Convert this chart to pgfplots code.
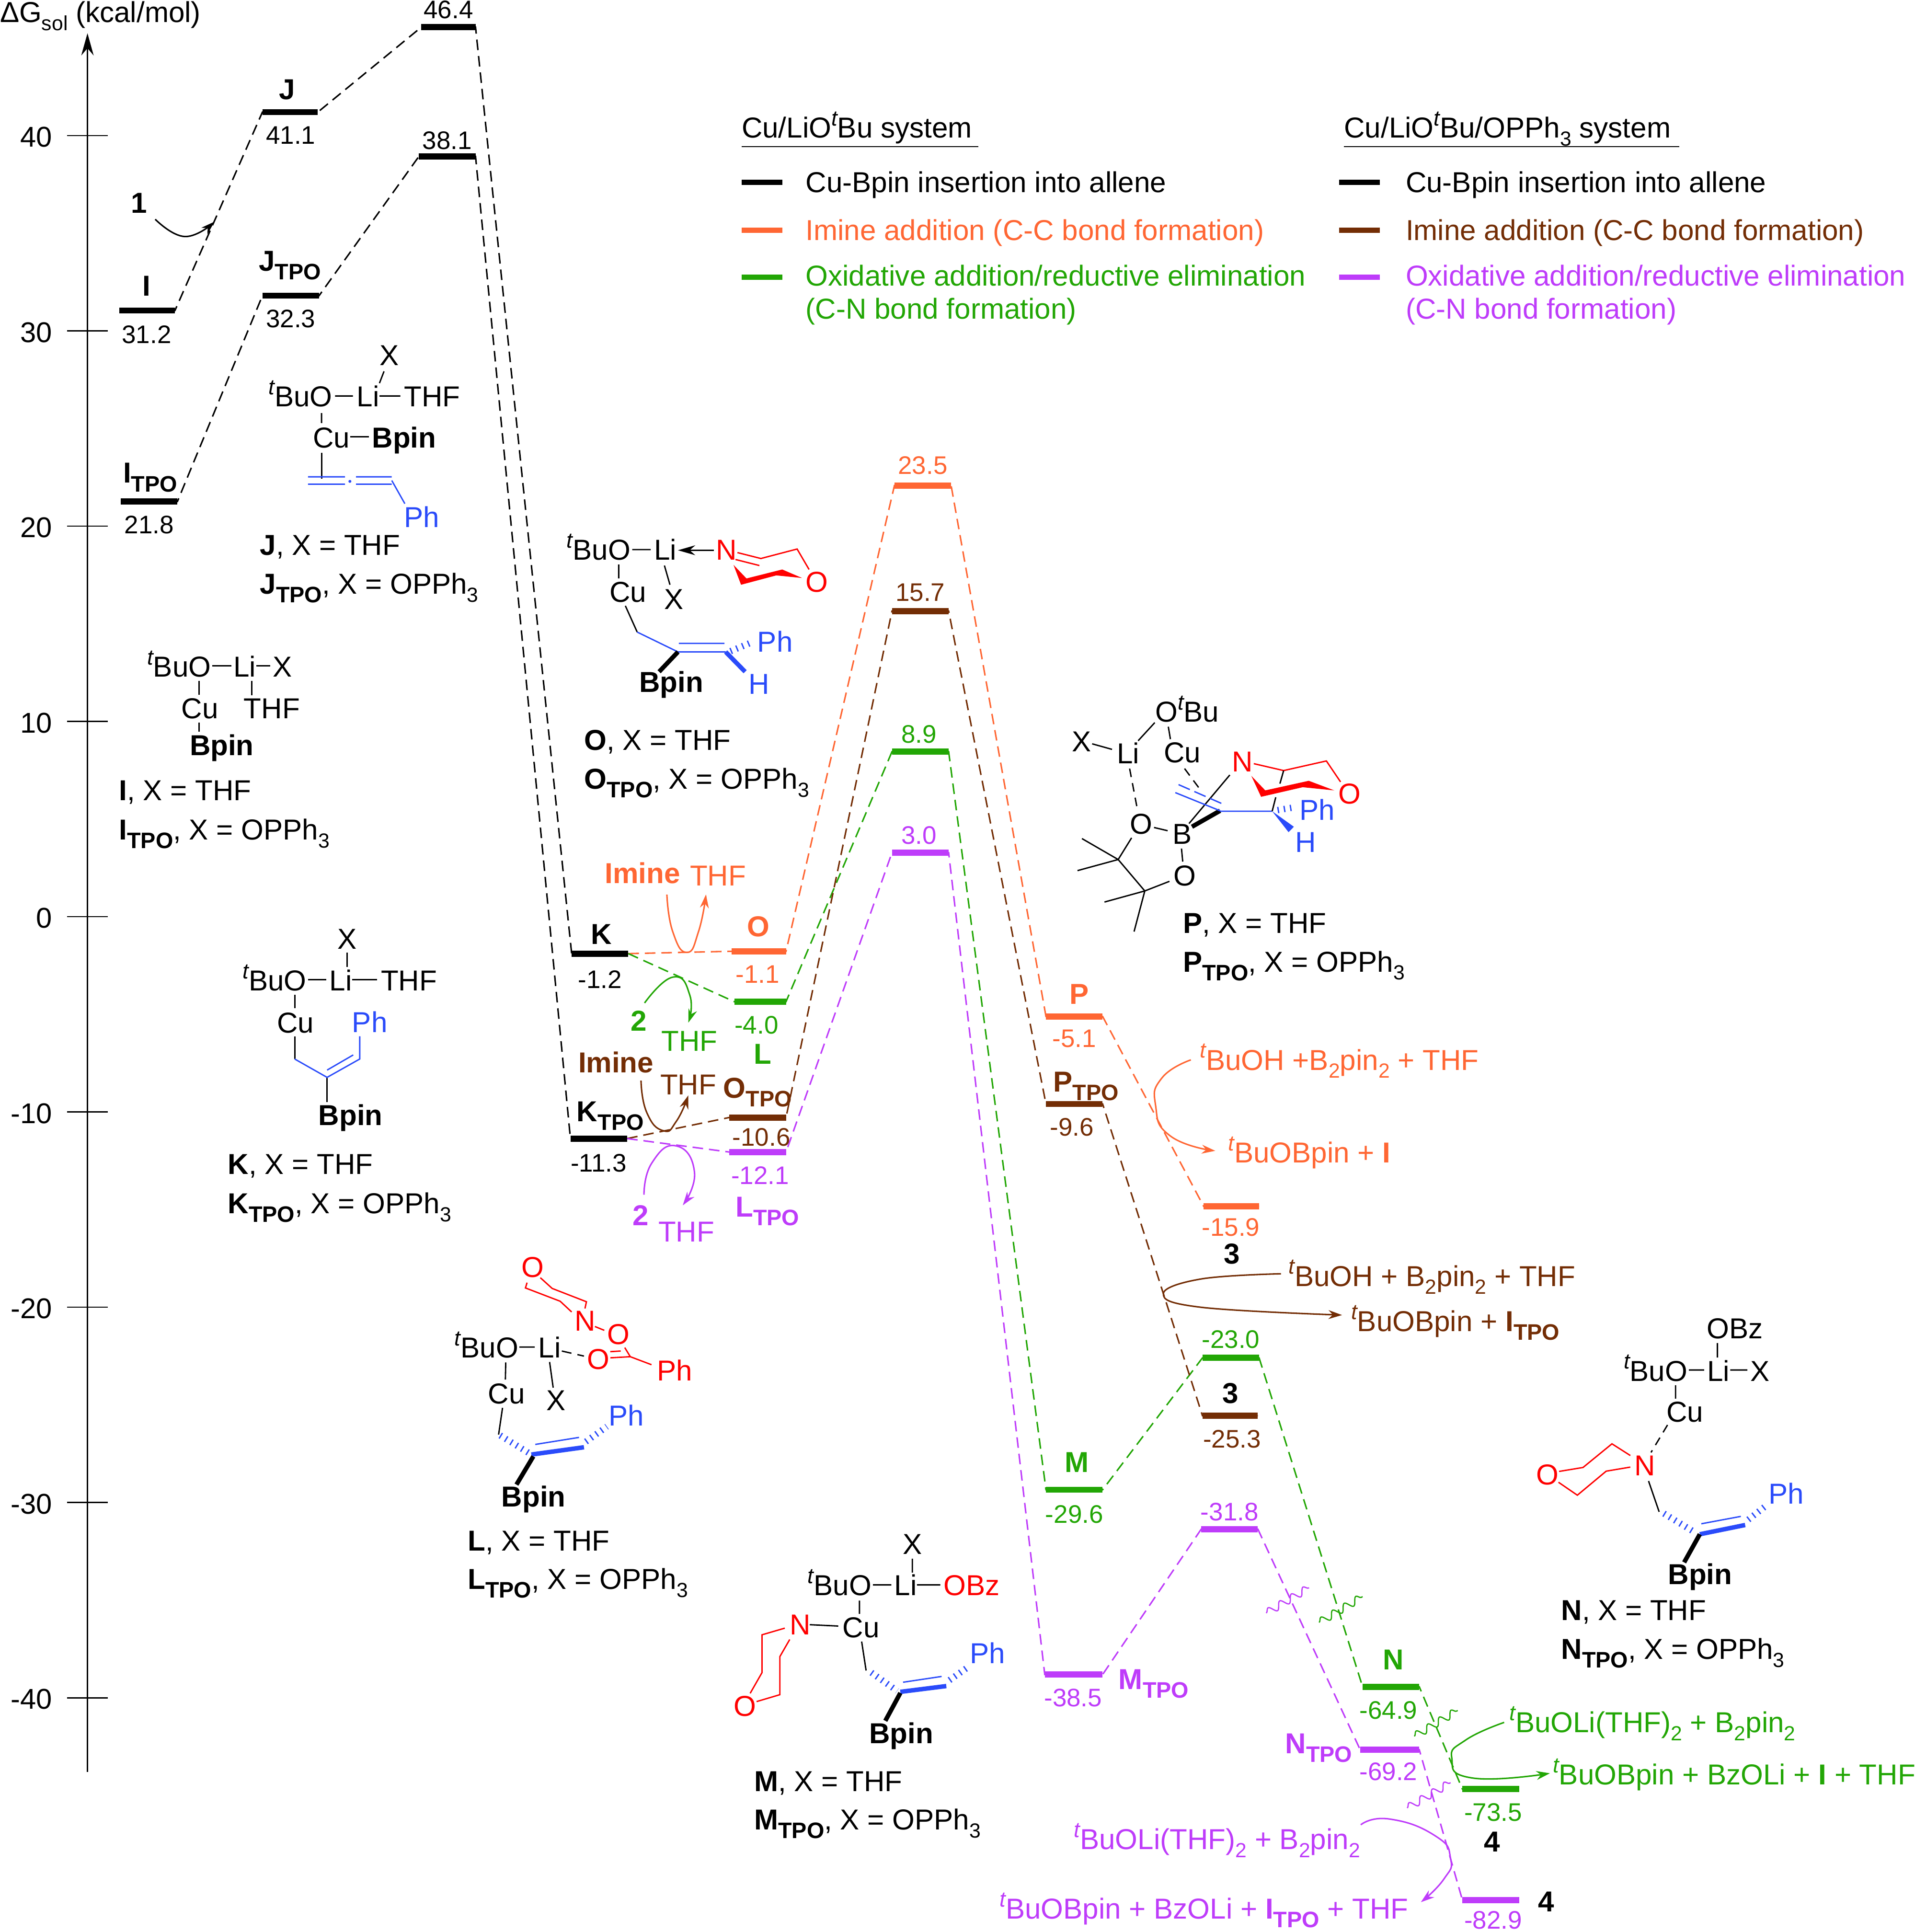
\documentclass[border=0pt]{standalone}
\usepackage{fontspec}
\setmainfont{Liberation Sans}
\usepackage{pgfplots}
\usepackage{pgfplotstable}
\pgfplotsset{compat=1.18}
\usetikzlibrary{arrows.meta,decorations.pathmorphing}
\definecolor{cor}{HTML}{FF6633}
\definecolor{cbr}{HTML}{732D05}
\definecolor{cgr}{HTML}{22A605}
\definecolor{cpu}{HTML}{BE3CFA}
\definecolor{cbl}{HTML}{2A4BFA}
\definecolor{cre}{HTML}{FF0000}

% level tables: x, y for the dashed path, b for the bar (nan breaks it)
\pgfplotstableread{
x y b
97 31.04 31.04
142 31.04 31.04
142 31.04 nan
213 41.2 41.2
258 41.2 41.2
258 41.2 nan
342 45.55 45.55
386 45.55 45.55
386 45.55 nan
464 -1.89 -1.89
510 -1.89 -1.89
}\tblA
\pgfplotstableread{
x y b
98 21.26 21.26
144 21.26 21.26
144 21.26 nan
213 31.8 31.8
259 31.8 31.8
259 31.8 nan
340 38.93 38.93
386 38.93 38.93
386 38.93 nan
463 -11.36 -11.36
509 -11.36 -11.36
}\tblB
\pgfplotstableread{
x y b
510 -1.89 nan
594 -1.77 -1.77
638 -1.77 -1.77
638 -1.77 nan
726 22.08 22.08
772 22.08 22.08
772 22.08 nan
849 -5.11 -5.11
895 -5.11 -5.11
895 -5.11 nan
977 -14.83 -14.83
1022 -14.83 -14.83
}\tblOr
\pgfplotstableread{
x y b
510 -1.89 nan
596 -4.35 -4.35
638 -4.35 -4.35
638 -4.35 nan
724 8.45 8.45
770 8.45 8.45
770 8.45 nan
849 -29.34 -29.34
895 -29.34 -29.34
895 -29.34 nan
976 -22.59 -22.59
1022 -22.59 -22.59
1022 -22.59 nan
1106 -39.43 -39.43
1152 -39.43 -39.43
1152 -39.43 nan
1187 -44.67 -44.67
1233 -44.67 -44.67
}\tblGr
\pgfplotstableread{
x y b
509 -11.36 nan
592 -10.28 -10.28
638 -10.28 -10.28
638 -10.28 nan
724 15.65 15.65
770 15.65 15.65
770 15.65 nan
849 -9.59 -9.59
895 -9.59 -9.59
895 -9.59 nan
976 -25.55 -25.55
1021 -25.55 -25.55
}\tblBr
\pgfplotstableread{
x y b
509 -11.36 nan
592 -12.05 -12.05
638 -12.05 -12.05
638 -12.05 nan
724 3.28 3.28
770 3.28 3.28
770 3.28 nan
848 -38.8 -38.8
895 -38.8 -38.8
895 -38.8 nan
975 -31.36 -31.36
1021 -31.36 -31.36
1021 -31.36 nan
1104 -42.65 -42.65
1152 -42.65 -42.65
1152 -42.65 nan
1187 -50.35 -50.35
1233 -50.35 -50.35
}\tblPu

\newcommand{\fs}{\fontsize{11.7}{14}\selectfont}
\newcommand{\fv}{\fontsize{10.3}{12}\selectfont}
\newcommand{\TPO}{\raisebox{-.3em}{\fontsize{9.1}{10}\selectfont\bfseries TPO}}
\newcommand{\dn}[1]{\raisebox{-.28em}{\fontsize{8.3}{10}\selectfont #1}}
\newcommand{\tu}{\raisebox{.42em}{\fontsize{8.8}{10}\selectfont\itshape t}}
% left/base and centre/base text at picture pixels
\newcommand{\lb}[4][black]{\node[anchor=base west,text=#1] at (#2,#3) {#4};}
\newcommand{\cb}[4][black]{\node[anchor=base,text=#1] at (#2,#3) {#4};}
\newcommand{\va}[4][black]{\node[anchor=base,text=#1,font=\fv] at (#2,#3) {#4};}
\newcommand{\capt}[4]{\lb{#1}{#2}{\textbf{#4}, X = THF}\lb{#1}{#3}{\textbf{#4}\TPO, X = OPPh\dn{3}}}

\begin{document}
\begin{tikzpicture}
\useasboundingbox (0,0) rectangle (777pt,784pt);

\begin{axis}[
  at={(35.5pt,65pt)},anchor=south west,scale only axis,width=10pt,height=705.5pt,
  xmin=0,xmax=1,ymin=-43.79,ymax=45.24,
  axis x line=none,axis y line=left,
  axis line style={line width=.6pt,-{Stealth[length=9pt,width=5pt]}},
  ytick={-40,-30,-20,-10,0,10,20,30,40},
  tick align=center,major tick length=16.5pt,
  tick style={black,line width=.5pt},
  yticklabel style={font=\fontsize{11.6}{13}\selectfont,/pgf/number format/assume math mode=true,anchor=east,xshift=-2.6pt,yshift=-.6pt},
]
\end{axis}

\begin{axis}[
  at={(0,0)},anchor=south west,scale only axis,width=777pt,height=784pt,
  xmin=0,xmax=1554,ymin=-51.987,ymax=46.94,
  axis lines=none,clip=false,unbounded coords=jump,
  conn/.style={dash pattern=on 4.3pt off 2.4pt,line width=.6pt,forget plot},
  lvl/.style={line width=2.5pt,forget plot},
]
\addplot[conn,black] table[x=x,y=y] {\tblA};
\addplot[conn,black] table[x=x,y=y] {\tblB};
\addplot[conn,cor] table[x=x,y=y] {\tblOr};
\addplot[conn,cgr] table[x=x,y=y] {\tblGr};
\addplot[conn,cbr] table[x=x,y=y] {\tblBr};
\addplot[conn,cpu] table[x=x,y=y] {\tblPu};
\addplot[lvl,black] table[x=x,y=b] {\tblA};
\addplot[lvl,black] table[x=x,y=b] {\tblB};
\addplot[lvl,cor] table[x=x,y=b] {\tblOr};
\addplot[lvl,cgr] table[x=x,y=b] {\tblGr};
\addplot[lvl,cbr] table[x=x,y=b] {\tblBr};
\addplot[lvl,cpu] table[x=x,y=b] {\tblPu};
\end{axis}

\begin{scope}[shift={(0,784pt)},x=.5pt,y=-.5pt,
  every node/.style={inner sep=0pt,outer sep=0pt,font=\fs},
  bd/.style={line width=.55pt},
  wd/.style={line width=1.8pt},
  hs/.style={line width=2.6pt,dash pattern=on .55pt off 2pt},
  ar/.style={line width=.6pt,-{Stealth[length=5.5pt,width=3.6pt]}},
  wv/.style={line width=.5pt,decorate,decoration={snake,amplitude=1.5pt,segment length=5.5pt}},
  leg/.style={line width=2.1pt}]

% axis title
\lb{0}{18}{Δ{}G\dn{sol} (kcal/mol)}

% energy values
\va{119}{278.5}{31.2}\va{121}{433}{21.8}\va{236}{117}{41.1}\va{236}{266}{32.3}
\va{364}{15}{46.4}\va{363}{121}{38.1}\va{487}{802}{-1.2}\va{486}{951}{-11.3}
\va[cor]{615}{798}{-1.1}\va[cor]{749}{385}{23.5}\va[cor]{872}{850}{-5.1}\va[cor]{999}{1003}{-15.9}
\va[cgr]{614}{839}{-4.0}\va[cgr]{746}{603}{8.9}\va[cgr]{999}{1094}{-23.0}\va[cgr]{872}{1236}{-29.6}\va[cgr]{1127}{1395}{-64.9}\va[cgr]{1212}{1478}{-73.5}
\va[cbr]{618}{930}{-10.6}\va[cbr]{747}{488}{15.7}\va[cbr]{870}{922}{-9.6}\va[cbr]{1000}{1175}{-25.3}
\va[cpu]{617}{961}{-12.1}\va[cpu]{746}{685}{3.0}\va[cpu]{871}{1385}{-38.5}\va[cpu]{998}{1234}{-31.8}\va[cpu]{1127}{1445}{-69.2}\va[cpu]{1212}{1565.5}{-82.9}

% state names
\cb{119}{240}{\textbf{I}}\lb{100}{392}{\textbf{I}\TPO}\cb{233}{80.6}{\textbf{J}}\lb{210}{220}{\textbf{J}\TPO}
\cb{113}{173}{\textbf{1}}
\cb{488}{766.3}{\textbf{K}}\lb{468.2}{910.2}{\textbf{K}\TPO}
\cb[cor]{615.7}{760}{\textbf{O}}\lb[cbr]{587.2}{891}{\textbf{O}\TPO}
\cb[cgr]{618.9}{863.5}{\textbf{L}}\lb[cpu]{597.1}{987.5}{\textbf{L}\TPO}
\cb[cor]{876}{815}{\textbf{P}}\lb[cbr]{855}{886}{\textbf{P}\TPO}
\cb[cgr]{874}{1195}{\textbf{M}}\lb[cpu]{908}{1371}{\textbf{M}\TPO}
\cb[cgr]{1131}{1355}{\textbf{N}}\lb[cpu]{1043.2}{1423.3}{\textbf{N}\TPO}
\cb{1000}{1025.7}{\textbf{3}}\cb{998.8}{1138.7}{\textbf{3}}
\cb{1211.2}{1503}{\textbf{4}}\lb{1248.4}{1551.6}{\textbf{4}}

% small side species and arrows
\draw[ar] plot[smooth,tension=.8] coordinates {(126,178) (150,192) (174,180)};
\lb[cor]{491}{717}{\textbf{Imine}}\lb[cor]{560}{719}{THF}
\draw[ar,cor] plot[smooth,tension=.9] coordinates {(541.3,726) (546,756) (557.5,773) (567,756) (573,726)};
\lb[cgr]{512}{836.8}{\textbf{2}}\lb[cgr]{536.9}{853.2}{THF}
\draw[ar,cgr] plot[smooth,tension=.9] coordinates {(523.2,814) (546.3,793) (560,808) (558.7,830)};
\lb[cbr]{469.4}{870.5}{\textbf{Imine}}\lb[cbr]{535.9}{888.3}{THF}
\draw[ar,cbr] plot[smooth,tension=.9] coordinates {(520.3,877) (525,903) (538.4,917.7) (549,910) (558.7,889)};
\lb[cpu]{513.6}{994.7}{\textbf{2}}\lb[cpu]{534.4}{1008}{THF}
\draw[ar,cpu] plot[smooth,tension=.9] coordinates {(522.7,969.7) (529,944) (548.8,930) (563.7,951.4) (554.2,978.2)};

\lb[cor]{974}{868.4}{\tu BuOH +B\dn{2}pin\dn{2} + THF}
\lb[cor]{997}{943.8}{\tu BuOBpin + \textbf{I}}
\draw[ar,cor] plot[smooth,tension=.9] coordinates {(966.6,860.2) (943,875) (938,897.4) (950,922) (986.4,934)};
\lb[cbr]{1046}{1043.8}{\tu BuOH + B\dn{2}pin\dn{2} + THF}
\lb[cbr]{1096.8}{1080.5}{\tu BuOBpin + \textbf{I}\TPO}
\draw[ar,cbr] plot[smooth,tension=.7] coordinates {(1039.7,1033.8) (975,1038) (944.3,1050) (975,1061) (1089.3,1067.3)};
\lb[cgr]{1225.2}{1406.1}{\tu BuOLi(THF)\dn{2} + B\dn{2}pin\dn{2}}
\lb[cgr]{1260.5}{1448.4}{\tu BuOBpin + BzOLi + \textbf{I} + THF}
\draw[ar,cgr] plot[smooth,tension=.9] coordinates {(1220.9,1397.9) (1190,1412) (1178.4,1426.8) (1195,1443) (1258,1439.2)};
\lb[cpu]{871.8}{1501}{\tu BuOLi(THF)\dn{2} + B\dn{2}pin\dn{2}}
\lb[cpu]{811.5}{1557.4}{\tu BuOBpin + BzOLi + \textbf{I}\TPO{} + THF}
\draw[ar,cpu] plot[smooth,tension=.9] coordinates {(1104.5,1481) (1127.7,1476.3) (1165,1490) (1177.4,1508.3) (1172,1525) (1153.3,1543.8)};

% breaks
\draw[wv,cpu] (1027.8,1309.2)--(1062.5,1288.6);
\draw[wv,cgr] (1070.7,1316.8)--(1106,1295.8);
\draw[wv,cgr] (1148,1409.2)--(1183.2,1388.2);
\draw[wv,cpu] (1142.2,1467.4)--(1177.4,1446.8);

% legend
\lb{602}{112}{Cu/LiO\tu Bu system}
\draw[bd] (602,119)--(794,119);
\draw[leg] (602,148)--(635,148);\lb{654}{156}{Cu-Bpin insertion into allene}
\draw[leg,cor] (602,187)--(635,187);\lb[cor]{654}{195}{Imine addition (C-C bond formation)}
\draw[leg,cgr] (602,225)--(635,225);\lb[cgr]{654}{232}{Oxidative addition/reductive elimination}
\lb[cgr]{654}{259}{(C-N bond formation)}
\lb{1091}{112}{Cu/LiO\tu Bu/OPPh\dn{3} system}
\draw[bd] (1091,119)--(1363,119);
\draw[leg] (1087,148)--(1120,148);\lb{1141}{156}{Cu-Bpin insertion into allene}
\draw[leg,cbr] (1087,187)--(1120,187);\lb[cbr]{1141}{195}{Imine addition (C-C bond formation)}
\draw[leg,cpu] (1087,225)--(1120,225);\lb[cpu]{1141}{232}{Oxidative addition/reductive elimination}
\lb[cpu]{1141}{259}{(C-N bond formation)}

% structure J
\lb{218}{330}{\tu BuO}\lb{289.6}{330}{Li}\lb{328}{330}{THF}\cb{316}{296.6}{X}
\draw[bd] (272,321.4)--(286.5,321.4) (308,321.4)--(325,321.4) (308,311)--(311.7,301.4) (261,335.3)--(261,343.4);
\lb{254}{363.3}{Cu}\lb{302}{363.3}{\textbf{Bpin}}
\draw[bd] (284.4,354.6)--(299.5,354.6) (261,367.5)--(261,388.5);
\draw[bd,cbl] (250,387)--(280,387) (250,393)--(280,393) (289,387)--(318,387) (289,393)--(318,393) (318,390)--(328.6,408.8);
\fill[cbl] (284,390.7) circle (.6pt);
\lb[cbl]{328}{428}{Ph}
\capt{211}{450.7}{482}{J}

% structure I
\lb{119.5}{549.5}{\tu BuO}\lb{189.5}{549.5}{Li}\lb{221.5}{549.5}{X}
\lb{147.3}{583.2}{Cu}\lb{197.9}{583.2}{THF}\lb{154}{613}{\textbf{Bpin}}
\draw[bd] (172.2,540.5)--(187.8,540.5) (208,540.5)--(219.4,540.5) (161.7,552.6)--(161.7,564) (204.4,552.6)--(204.4,564.3) (161.7,586.3)--(161.7,594);
\capt{96.7}{649.8}{681.6}{I}

% structure K
\cb{281.8}{770.3}{X}\lb{197}{804}{\tu BuO}\lb{267.5}{804}{Li}\lb{309.2}{804}{THF}
\draw[bd] (250,795)--(265,795) (286,795)--(306,795) (281.8,773.3)--(281.8,784.7) (239.2,807.4)--(239.2,818.4) (239.2,841)--(239.2,859.5) (265.5,874.4)--(265.5,894.5);
\lb{224.9}{838.1}{Cu}\lb[cbl]{285.8}{837.8}{Ph}\lb{258.6}{913.4}{\textbf{Bpin}}
\draw[bd,cbl] (239.2,859.5)--(265.5,874.4)--(292,859.5)--(292,841) (265.5,868.5)--(286.7,856.2);
\capt{185}{953}{985}{K}

% structure O
\lb{460}{454.6}{\tu BuO}\lb{530.9}{454.6}{Li}\lb[cre]{581.2}{454.6}{N}
\draw[bd] (513.2,446.1)--(528.2,446.1) (502.2,458.2)--(502.2,469.5) (539.3,459)--(543.8,474.6) (507.6,491.7)--(517.2,513);
\draw[line width=.6pt,-{Stealth[length=7pt,width=4pt]}] (579.3,446.6)--(550.3,446.6);
\lb{494.7}{488.5}{Cu}\lb{539.3}{494.4}{X}
\draw[bd,cre] (598.6,448.5)--(617.6,453.3)--(647,445.6)--(656.7,462.2) (597,454.1)--(616.4,459);
\fill[cre] (595.4,458.5)--(605.9,469.5)--(634.9,462.2)--(651,469.1)--(630.1,467)--(601.5,474.6)--cycle;
\lb[cre]{654}{480.4}{O}
\draw[bd,cbl] (517.2,513)--(550.3,529.1)--(589,529.1) (551,522.2)--(588,522.2);
\draw[wd] (550.3,529.1)--(535,545.2);
\draw[wd,cbl] (589,529.1)--(604.8,545.2);
\draw[hs,cbl] (593,528.5)--(611,521);
\lb[cbl]{614.8}{529}{Ph}\lb[cbl]{607.5}{563.3}{H}\lb{518.8}{561.7}{\textbf{Bpin}}
\capt{474.2}{609}{640.3}{O}

% structure P
\lb{937.7}{586}{O\tu Bu}\lb{870.3}{610}{X}\lb{906.6}{619.8}{Li}\lb{944.7}{619}{Cu}\lb[cre]{1000.2}{626.2}{N}
\draw[bd] (886.5,603.7)--(902.6,608.2) (923.8,601.2)--(937.3,586.5) (948.3,589.8)--(950,599.9);
\draw[bd,dash pattern=on 3.5pt off 2.5pt] (961.5,623.8)--(973.4,639.8) (916.9,623.8)--(923.3,657.5);
\lb{917.3}{677}{O}\lb{951.6}{684.9}{B}\lb{952.6}{718.8}{O}
\draw[bd] (936.7,671.6)--(947.7,674.2) (959,688.7)--(960,699.3) (918.5,680)--(907.6,697.6)--(929.2,723.1)--(949.2,715.3);
\draw[bd] (907.6,697.6)--(878.2,680.6) (907.6,697.6)--(874.6,706.6) (929.2,723.1)--(896.5,732.1) (929.2,723.1)--(920.5,756.1);
\draw[bd] (965.1,668.4)--(998.2,629);
\draw[wd] (967.5,671)--(990.3,658);
\draw[bd,cbl] (990.3,658.4)--(1032.6,658.4) (954,643.3)--(990.3,658);
\draw[bd,cbl,dash pattern=on 5pt off 2pt] (956.6,636.8)--(991.3,652);
\draw[bd,cre] (1017.7,619.8)--(1041.9,625.4)--(1076.6,617.6)--(1088.1,634.6);
\fill[cre] (1015.7,629.7)--(1027,641.5)--(1062.3,633.7)--(1083,641.5)--(1057.4,638.9)--(1023.6,646.7)--cycle;
\lb[cre]{1086.5}{652.3}{O}
\draw[bd] (1041.9,625.4)--(1038.9,636) (1035.5,647.1)--(1032.6,658.4);
\draw[hs,cbl] (1037,657.5)--(1052,655);
\fill[cbl] (1032.6,658.4)--(1050.2,671)--(1045.9,675.4)--cycle;
\lb[cbl]{1054.8}{665.5}{Ph}\lb[cbl]{1051.4}{691.5}{H}
\capt{960.2}{757.5}{788.7}{P}

% structure L
\lb{369}{1102}{\tu BuO}\lb{437}{1102}{Li}\lb[cre]{476.4}{1111.3}{O}\lb[cre]{493}{1090.9}{O}\lb[cre]{466.3}{1080}{N}
\draw[bd] (421.6,1093.3)--(434,1093.3) (410.5,1105.8)--(410.2,1119.7) (446.1,1105.4)--(449,1126.2) (407.9,1142.6)--(404.7,1164.3);
\draw[bd,dash pattern=on 4pt off 2.5pt] (456,1096.5)--(474,1100.6);
\draw[bd,cre] (482.9,1076.6)--(490.5,1079.7) (507.1,1093.7)--(511.6,1101.1)--(528.8,1107.6) (495.3,1097)--(503.8,1096.5) (495.5,1102)--(511.6,1101.1);
\draw[bd,cre] (438.6,1037)--(448.2,1045.7)--(476,1056.5)--(474.8,1062) (427.8,1041)--(426.5,1045.3)--(454.7,1056.1)--(464,1064.8);
\lb[cre]{533.4}{1120.6}{Ph}\lb[cre]{423.2}{1036.6}{O}
\lb{396.2}{1139.2}{Cu}\lb{443.4}{1144.8}{X}
\draw[hs,cbl] (406,1165)--(431.3,1180.5);
\draw[wd,cbl] (431.3,1180.5)--(474,1174.6);
\draw[bd,cbl] (434.5,1172.3)--(470,1166.6);
\draw[hs,cbl] (475.6,1170)--(492.6,1157.8);
\lb[cbl]{494.2}{1157.3}{Ph}
\draw[wd] (432.9,1182)--(419.2,1204.9);
\lb{407.1}{1223}{\textbf{Bpin}}
\capt{379.7}{1258.8}{1289.9}{L}

% structure M
\lb{733}{1261.5}{X}\lb{655.6}{1295}{\tu BuO}\lb{726}{1295}{Li}\lb[cre]{766}{1295}{OBz}
\draw[bd] (740.5,1265)--(740.5,1276.3) (708.6,1286.3)--(723.5,1286.3) (744.3,1286.3)--(763.2,1286.3) (697.6,1299)--(697.6,1309.8) (657.3,1318.6)--(680.4,1319.7) (699.4,1332.3)--(703,1355.8);
\lb{683.9}{1328.9}{Cu}\lb[cre]{641}{1326.8}{N}\lb[cre]{595.4}{1392.7}{O}
\draw[bd,cre] (637,1321.4)--(618.5,1326.8)--(618.5,1357.5)--(608.9,1374.3) (641,1330.6)--(633,1344.5)--(633,1375.4)--(614.1,1381);
\draw[hs,cbl] (707.3,1357.5)--(728.2,1372.3);
\draw[wd,cbl] (730.8,1373.1)--(768.1,1368.4);
\draw[bd,cbl] (733,1365.3)--(764.3,1360.6);
\draw[hs,cbl] (770.7,1363.6)--(785.5,1353.2);
\lb[cbl]{787.2}{1350}{Ph}
\draw[wd] (730.8,1374)--(718.6,1396.6);
\lb{705.6}{1414.8}{\textbf{Bpin}}
\capt{612.2}{1453.9}{1485.1}{M}

% structure N
\lb{1385.3}{1086.5}{OBz}\lb{1318}{1120.8}{\tu BuO}\lb{1385.8}{1120.8}{Li}\lb{1420.9}{1120.8}{X}
\draw[bd] (1394,1090)--(1394,1101.8) (1370.9,1111.9)--(1383.2,1111.9) (1404.4,1111.9)--(1418.3,1111.9) (1360,1124.2)--(1360,1135.1) (1338.1,1202)--(1346.7,1227);
\draw[bd,dash pattern=on 3.5pt off 2.5pt] (1353.5,1156.5)--(1340.1,1178.8);
\lb{1352.6}{1154}{Cu}\lb[cre]{1326.6}{1197.6}{N}\lb[cre]{1246.9}{1205}{O}
\draw[bd,cre] (1323.3,1181.3)--(1308.4,1171.8)--(1284.9,1191)--(1265.5,1194.2) (1323.3,1190.7)--(1303.7,1194)--(1280.3,1213.5)--(1265,1203);
\draw[hs,cbl] (1350.6,1228.4)--(1376.6,1244.2);
\draw[wd,cbl] (1379.7,1245.2)--(1416.5,1237.7);
\draw[bd,cbl] (1380.9,1236.7)--(1413,1230.7);
\draw[hs,cbl] (1419.1,1233.3)--(1433,1222.4);
\lb[cbl]{1435.6}{1220.4}{Ph}
\draw[wd] (1379.7,1245.2)--(1367,1268);
\lb{1354}{1285.9}{\textbf{Bpin}}
\capt{1267.2}{1315}{1346.4}{N}
\end{scope}
\end{tikzpicture}
\end{document}
